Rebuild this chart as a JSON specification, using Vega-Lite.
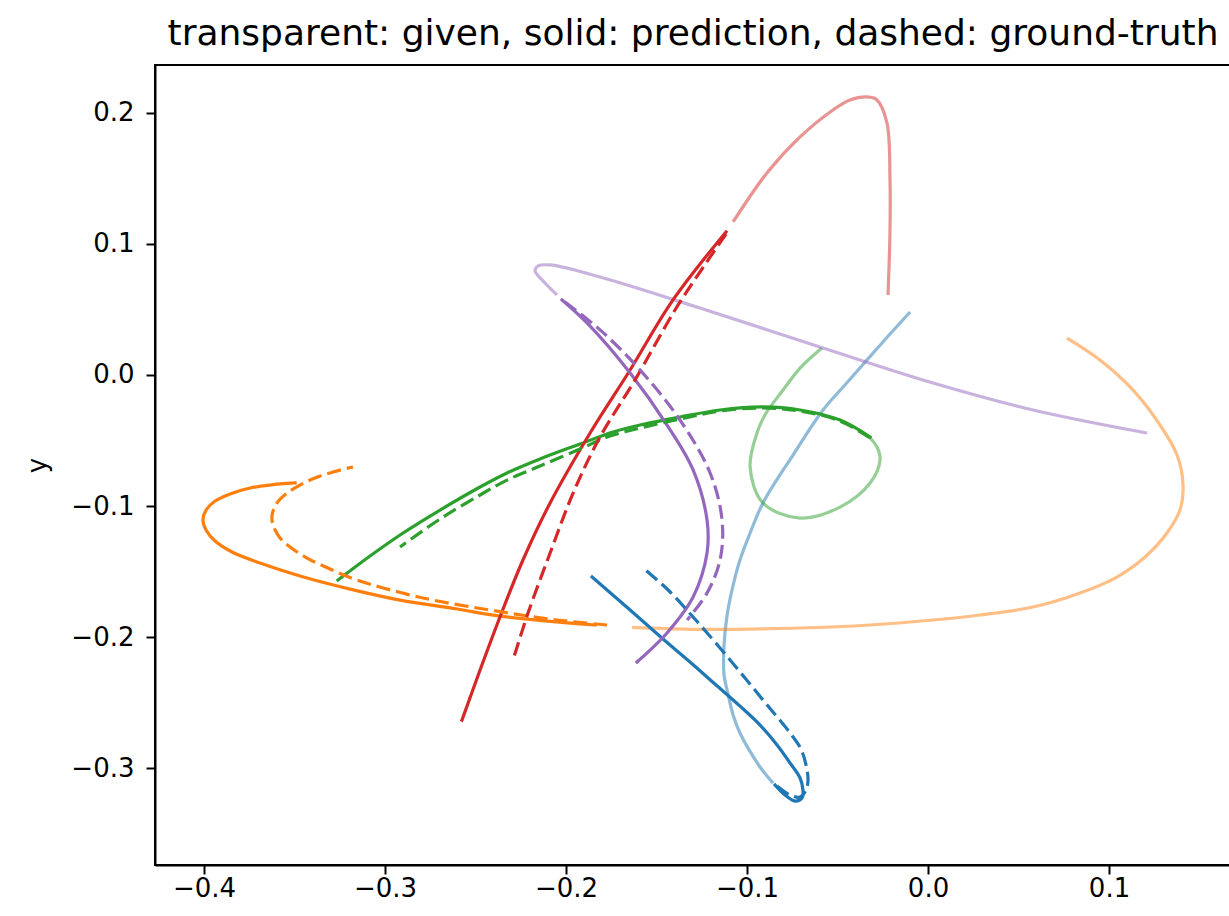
{
  "$schema": "https://vega.github.io/schema/vega-lite/v6.json",
  "autosize": {"type": "none"},
  "width": 1076,
  "height": 800,
  "padding": {"left": 155, "top": 65, "right": 0, "bottom": 51},
  "background": "white",
  "config": {
    "font": "DejaVu Sans",
    "view": {"stroke": "black", "strokeWidth": 2},
    "axis": {"grid": false, "domainColor": "black", "domainWidth": 2, "tickColor": "black", "tickWidth": 2, "tickSize": 9, "labelColor": "black", "labelFont": "DejaVu Sans", "labelFontSize": 26, "titleFont": "DejaVu Sans", "titleFontSize": 26, "titleFontWeight": "normal", "titleColor": "black"}
  },
  "title": {"text": "transparent: given, solid: prediction, dashed: ground-truth", "font": "DejaVu Sans", "fontSize": 36, "fontWeight": "normal", "color": "black", "anchor": "middle", "offset": 12},
  "data": {"values": [
    {"t":0,"k":"g","i":0,"x":-0.0099,"y":0.0481},{"t":0,"k":"g","i":1,"x":-0.0215,"y":0.0305},{"t":0,"k":"g","i":2,"x":-0.0337,"y":0.0115},{"t":0,"k":"g","i":3,"x":-0.0459,"y":-0.0076},{"t":0,"k":"g","i":4,"x":-0.0580,"y":-0.0267},{"t":0,"k":"g","i":5,"x":-0.0746,"y":-0.0611},{"t":0,"k":"g","i":6,"x":-0.0912,"y":-0.0977},{"t":0,"k":"g","i":7,"x":-0.0983,"y":-0.1206},{"t":0,"k":"g","i":8,"x":-0.1039,"y":-0.1412},{"t":0,"k":"g","i":9,"x":-0.1083,"y":-0.1641},{"t":0,"k":"g","i":10,"x":-0.1110,"y":-0.1832},{"t":0,"k":"g","i":11,"x":-0.1127,"y":-0.2061},{"t":0,"k":"g","i":12,"x":-0.1127,"y":-0.2290},{"t":0,"k":"g","i":13,"x":-0.1110,"y":-0.2405},{"t":0,"k":"g","i":14,"x":-0.1077,"y":-0.2595},{"t":0,"k":"g","i":15,"x":-0.1039,"y":-0.2733},{"t":0,"k":"g","i":16,"x":-0.0928,"y":-0.2992},{"t":0,"k":"g","i":17,"x":-0.0856,"y":-0.3115},
    {"t":0,"k":"p","i":0,"x":-0.0845,"y":-0.3130},{"t":0,"k":"p","i":1,"x":-0.0790,"y":-0.3206},{"t":0,"k":"p","i":2,"x":-0.0735,"y":-0.3252},{"t":0,"k":"p","i":3,"x":-0.0696,"y":-0.3229},{"t":0,"k":"p","i":4,"x":-0.0691,"y":-0.3168},{"t":0,"k":"p","i":5,"x":-0.0707,"y":-0.3076},{"t":0,"k":"p","i":6,"x":-0.0762,"y":-0.2962},{"t":0,"k":"p","i":7,"x":-0.0834,"y":-0.2824},{"t":0,"k":"p","i":8,"x":-0.0928,"y":-0.2672},{"t":0,"k":"p","i":9,"x":-0.1039,"y":-0.2527},{"t":0,"k":"p","i":10,"x":-0.1177,"y":-0.2359},{"t":0,"k":"p","i":11,"x":-0.1315,"y":-0.2191},{"t":0,"k":"p","i":12,"x":-0.1464,"y":-0.2015},{"t":0,"k":"p","i":13,"x":-0.1646,"y":-0.1794},{"t":0,"k":"p","i":14,"x":-0.1856,"y":-0.1542},
    {"t":0,"k":"d","i":0,"x":-0.0834,"y":-0.3137},{"t":0,"k":"d","i":1,"x":-0.0762,"y":-0.3206},{"t":0,"k":"d","i":2,"x":-0.0707,"y":-0.3221},{"t":0,"k":"d","i":3,"x":-0.0674,"y":-0.3168},{"t":0,"k":"d","i":4,"x":-0.0663,"y":-0.3092},{"t":0,"k":"d","i":5,"x":-0.0674,"y":-0.2977},{"t":0,"k":"d","i":6,"x":-0.0702,"y":-0.2855},{"t":0,"k":"d","i":7,"x":-0.0762,"y":-0.2733},{"t":0,"k":"d","i":8,"x":-0.0884,"y":-0.2527},{"t":0,"k":"d","i":9,"x":-0.1011,"y":-0.2313},{"t":0,"k":"d","i":10,"x":-0.1149,"y":-0.2084},{"t":0,"k":"d","i":11,"x":-0.1298,"y":-0.1847},{"t":0,"k":"d","i":12,"x":-0.1436,"y":-0.1641},{"t":0,"k":"d","i":13,"x":-0.1580,"y":-0.1466},

    {"t":1,"k":"g","i":0,"x":0.0768,"y":0.0282},{"t":1,"k":"g","i":1,"x":0.0950,"y":0.0115},{"t":1,"k":"g","i":2,"x":0.1133,"y":-0.0115},{"t":1,"k":"g","i":3,"x":0.1282,"y":-0.0382},{"t":1,"k":"g","i":4,"x":0.1376,"y":-0.0611},{"t":1,"k":"g","i":5,"x":0.1409,"y":-0.0840},{"t":1,"k":"g","i":6,"x":0.1392,"y":-0.1031},{"t":1,"k":"g","i":7,"x":0.1320,"y":-0.1206},{"t":1,"k":"g","i":8,"x":0.1199,"y":-0.1389},{"t":1,"k":"g","i":9,"x":0.1044,"y":-0.1542},{"t":1,"k":"g","i":10,"x":0.0840,"y":-0.1664},{"t":1,"k":"g","i":11,"x":0.0580,"y":-0.1771},{"t":1,"k":"g","i":12,"x":0.0287,"y":-0.1832},{"t":1,"k":"g","i":13,"x":0.0028,"y":-0.1870},{"t":1,"k":"g","i":14,"x":-0.0320,"y":-0.1908},{"t":1,"k":"g","i":15,"x":-0.0707,"y":-0.1931},{"t":1,"k":"g","i":16,"x":-0.1260,"y":-0.1942},{"t":1,"k":"g","i":17,"x":-0.1635,"y":-0.1927},
    {"t":1,"k":"p","i":0,"x":-0.1840,"y":-0.1908},{"t":1,"k":"p","i":1,"x":-0.2050,"y":-0.1885},{"t":1,"k":"p","i":2,"x":-0.2365,"y":-0.1840},{"t":1,"k":"p","i":3,"x":-0.2602,"y":-0.1786},{"t":1,"k":"p","i":4,"x":-0.2917,"y":-0.1718},{"t":1,"k":"p","i":5,"x":-0.3193,"y":-0.1634},{"t":1,"k":"p","i":6,"x":-0.3470,"y":-0.1534},{"t":1,"k":"p","i":7,"x":-0.3691,"y":-0.1435},{"t":1,"k":"p","i":8,"x":-0.3845,"y":-0.1351},{"t":1,"k":"p","i":9,"x":-0.3939,"y":-0.1267},{"t":1,"k":"p","i":10,"x":-0.3989,"y":-0.1183},{"t":1,"k":"p","i":11,"x":-0.4006,"y":-0.1107},{"t":1,"k":"p","i":12,"x":-0.3989,"y":-0.1031},{"t":1,"k":"p","i":13,"x":-0.3939,"y":-0.0962},{"t":1,"k":"p","i":14,"x":-0.3856,"y":-0.0908},{"t":1,"k":"p","i":15,"x":-0.3746,"y":-0.0863},{"t":1,"k":"p","i":16,"x":-0.3635,"y":-0.0840},{"t":1,"k":"p","i":17,"x":-0.3497,"y":-0.0824},
    {"t":1,"k":"d","i":0,"x":-0.1773,"y":-0.1908},{"t":1,"k":"d","i":1,"x":-0.2050,"y":-0.1870},{"t":1,"k":"d","i":2,"x":-0.2420,"y":-0.1794},{"t":1,"k":"d","i":3,"x":-0.2790,"y":-0.1702},{"t":1,"k":"d","i":4,"x":-0.3155,"y":-0.1565},{"t":1,"k":"d","i":5,"x":-0.3304,"y":-0.1481},{"t":1,"k":"d","i":6,"x":-0.3431,"y":-0.1397},{"t":1,"k":"d","i":7,"x":-0.3525,"y":-0.1313},{"t":1,"k":"d","i":8,"x":-0.3580,"y":-0.1244},{"t":1,"k":"d","i":9,"x":-0.3619,"y":-0.1145},{"t":1,"k":"d","i":10,"x":-0.3624,"y":-0.1069},{"t":1,"k":"d","i":11,"x":-0.3597,"y":-0.0977},{"t":1,"k":"d","i":12,"x":-0.3541,"y":-0.0901},{"t":1,"k":"d","i":13,"x":-0.3470,"y":-0.0840},{"t":1,"k":"d","i":14,"x":-0.3387,"y":-0.0786},{"t":1,"k":"d","i":15,"x":-0.3287,"y":-0.0740},{"t":1,"k":"d","i":16,"x":-0.3177,"y":-0.0702},

    {"t":2,"k":"g","i":0,"x":-0.0586,"y":0.0206},{"t":2,"k":"g","i":1,"x":-0.0707,"y":0.0053},{"t":2,"k":"g","i":2,"x":-0.0801,"y":-0.0115},{"t":2,"k":"g","i":3,"x":-0.0901,"y":-0.0305},{"t":2,"k":"g","i":4,"x":-0.0945,"y":-0.0443},{"t":2,"k":"g","i":5,"x":-0.0983,"y":-0.0702},{"t":2,"k":"g","i":6,"x":-0.0912,"y":-0.0977},{"t":2,"k":"g","i":7,"x":-0.0707,"y":-0.1092},{"t":2,"k":"g","i":8,"x":-0.0486,"y":-0.1008},{"t":2,"k":"g","i":9,"x":-0.0320,"y":-0.0824},{"t":2,"k":"g","i":10,"x":-0.0265,"y":-0.0649},{"t":2,"k":"g","i":11,"x":-0.0282,"y":-0.0550},{"t":2,"k":"g","i":12,"x":-0.0320,"y":-0.0481},
    {"t":2,"k":"p","i":0,"x":-0.0320,"y":-0.0473},{"t":2,"k":"p","i":1,"x":-0.0486,"y":-0.0344},{"t":2,"k":"p","i":2,"x":-0.0707,"y":-0.0267},{"t":2,"k":"p","i":3,"x":-0.0912,"y":-0.0244},{"t":2,"k":"p","i":4,"x":-0.1149,"y":-0.0267},{"t":2,"k":"p","i":5,"x":-0.1370,"y":-0.0321},{"t":2,"k":"p","i":6,"x":-0.1591,"y":-0.0382},{"t":2,"k":"p","i":7,"x":-0.1740,"y":-0.0435},{"t":2,"k":"p","i":8,"x":-0.1923,"y":-0.0527},{"t":2,"k":"p","i":9,"x":-0.2144,"y":-0.0641},{"t":2,"k":"p","i":10,"x":-0.2326,"y":-0.0748},{"t":2,"k":"p","i":11,"x":-0.2475,"y":-0.0855},{"t":2,"k":"p","i":12,"x":-0.2696,"y":-0.1031},{"t":2,"k":"p","i":13,"x":-0.2917,"y":-0.1221},{"t":2,"k":"p","i":14,"x":-0.3083,"y":-0.1382},{"t":2,"k":"p","i":15,"x":-0.3260,"y":-0.1565},
    {"t":2,"k":"d","i":0,"x":-0.0320,"y":-0.0481},{"t":2,"k":"d","i":1,"x":-0.0486,"y":-0.0351},{"t":2,"k":"d","i":2,"x":-0.0707,"y":-0.0275},{"t":2,"k":"d","i":3,"x":-0.0912,"y":-0.0252},{"t":2,"k":"d","i":4,"x":-0.1149,"y":-0.0275},{"t":2,"k":"d","i":5,"x":-0.1370,"y":-0.0336},{"t":2,"k":"d","i":6,"x":-0.1591,"y":-0.0405},{"t":2,"k":"d","i":7,"x":-0.1757,"y":-0.0466},{"t":2,"k":"d","i":8,"x":-0.1923,"y":-0.0565},{"t":2,"k":"d","i":9,"x":-0.2144,"y":-0.0695},{"t":2,"k":"d","i":10,"x":-0.2326,"y":-0.0802},{"t":2,"k":"d","i":11,"x":-0.2475,"y":-0.0916},{"t":2,"k":"d","i":12,"x":-0.2696,"y":-0.1099},{"t":2,"k":"d","i":13,"x":-0.2917,"y":-0.1313},

    {"t":3,"k":"g","i":0,"x":-0.0221,"y":0.0611},{"t":3,"k":"g","i":1,"x":-0.0210,"y":0.1107},{"t":3,"k":"g","i":2,"x":-0.0210,"y":0.1489},{"t":3,"k":"g","i":3,"x":-0.0227,"y":0.1924},{"t":3,"k":"g","i":4,"x":-0.0282,"y":0.2099},{"t":3,"k":"g","i":5,"x":-0.0337,"y":0.2122},{"t":3,"k":"g","i":6,"x":-0.0431,"y":0.2099},{"t":3,"k":"g","i":7,"x":-0.0525,"y":0.2023},{"t":3,"k":"g","i":8,"x":-0.0707,"y":0.1817},{"t":3,"k":"g","i":9,"x":-0.0890,"y":0.1542},{"t":3,"k":"g","i":10,"x":-0.1077,"y":0.1168},
    {"t":3,"k":"p","i":0,"x":-0.1116,"y":0.1092},{"t":3,"k":"p","i":1,"x":-0.1409,"y":0.0573},{"t":3,"k":"p","i":2,"x":-0.1646,"y":0.0038},{"t":3,"k":"p","i":3,"x":-0.1867,"y":-0.0443},{"t":3,"k":"p","i":4,"x":-0.2088,"y":-0.0977},{"t":3,"k":"p","i":5,"x":-0.2238,"y":-0.1412},{"t":3,"k":"p","i":6,"x":-0.2365,"y":-0.1847},{"t":3,"k":"p","i":7,"x":-0.2475,"y":-0.2252},{"t":3,"k":"p","i":8,"x":-0.2575,"y":-0.2634},
    {"t":3,"k":"d","i":0,"x":-0.1116,"y":0.1076},{"t":3,"k":"d","i":1,"x":-0.1260,"y":0.0786},{"t":3,"k":"d","i":2,"x":-0.1398,"y":0.0496},{"t":3,"k":"d","i":3,"x":-0.1619,"y":-0.0038},{"t":3,"k":"d","i":4,"x":-0.1812,"y":-0.0473},{"t":3,"k":"d","i":5,"x":-0.1961,"y":-0.0901},{"t":3,"k":"d","i":6,"x":-0.2088,"y":-0.1359},{"t":3,"k":"d","i":7,"x":-0.2210,"y":-0.1817},{"t":3,"k":"d","i":8,"x":-0.2293,"y":-0.2176},

    {"t":4,"k":"g","i":0,"x":0.1210,"y":-0.0443},{"t":4,"k":"g","i":1,"x":0.0580,"y":-0.0267},{"t":4,"k":"g","i":2,"x":0.0028,"y":-0.0061},{"t":4,"k":"g","i":3,"x":-0.0597,"y":0.0214},{"t":4,"k":"g","i":4,"x":-0.1260,"y":0.0511},{"t":4,"k":"g","i":5,"x":-0.1812,"y":0.0748},{"t":4,"k":"g","i":6,"x":-0.2088,"y":0.0840},{"t":4,"k":"g","i":7,"x":-0.2155,"y":0.0832},{"t":4,"k":"g","i":8,"x":-0.2171,"y":0.0794},{"t":4,"k":"g","i":9,"x":-0.2116,"y":0.0702},{"t":4,"k":"g","i":10,"x":-0.2050,"y":0.0611},
    {"t":4,"k":"p","i":0,"x":-0.2022,"y":0.0573},{"t":4,"k":"p","i":1,"x":-0.1884,"y":0.0397},{"t":4,"k":"p","i":2,"x":-0.1646,"y":0.0015},{"t":4,"k":"p","i":3,"x":-0.1442,"y":-0.0382},{"t":4,"k":"p","i":4,"x":-0.1298,"y":-0.0725},{"t":4,"k":"p","i":5,"x":-0.1221,"y":-0.1107},{"t":4,"k":"p","i":6,"x":-0.1221,"y":-0.1359},{"t":4,"k":"p","i":7,"x":-0.1298,"y":-0.1695},{"t":4,"k":"p","i":8,"x":-0.1442,"y":-0.1969},{"t":4,"k":"p","i":9,"x":-0.1608,"y":-0.2191},
    {"t":4,"k":"d","i":0,"x":-0.2006,"y":0.0557},{"t":4,"k":"d","i":1,"x":-0.1812,"y":0.0344},{"t":4,"k":"d","i":2,"x":-0.1591,"y":0.0038},{"t":4,"k":"d","i":3,"x":-0.1370,"y":-0.0344},{"t":4,"k":"d","i":4,"x":-0.1204,"y":-0.0748},{"t":4,"k":"d","i":5,"x":-0.1138,"y":-0.1107},{"t":4,"k":"d","i":6,"x":-0.1149,"y":-0.1412},{"t":4,"k":"d","i":7,"x":-0.1221,"y":-0.1664},{"t":4,"k":"d","i":8,"x":-0.1331,"y":-0.1870}
  ]},
  "encoding": {
    "x": {"field": "x", "type": "quantitative", "scale": {"domain": [-0.4271, 0.1674], "nice": false, "zero": false}, "axis": {"values": [-0.4, -0.3, -0.2, -0.1, 0, 0.1], "format": ".1f", "title": null, "labelPadding": 1}},
    "y": {"field": "y", "type": "quantitative", "scale": {"domain": [-0.374, 0.2366], "nice": false, "zero": false}, "axis": {"values": [-0.3, -0.2, -0.1, 0, 0.1, 0.2], "format": ".1f", "title": "y", "labelPadding": 12, "titlePadding": 20}},
    "color": {"field": "t", "type": "nominal", "scale": {"domain": [0, 1, 2, 3, 4], "range": ["#1f77b4", "#ff7f0e", "#2ca02c", "#d62728", "#9467bd"]}, "legend": null},
    "order": {"field": "i", "type": "quantitative"}
  },
  "layer": [
    {"transform": [{"filter": "datum.k === 'g'"}], "mark": {"type": "line", "strokeWidth": 3.2, "opacity": 0.5, "strokeCap": "butt", "interpolate": "catmull-rom"}},
    {"transform": [{"filter": "datum.k === 'p'"}], "mark": {"type": "line", "strokeWidth": 3.2, "strokeCap": "square", "interpolate": "catmull-rom"}},
    {"transform": [{"filter": "datum.k === 'd'"}], "mark": {"type": "line", "strokeWidth": 3.2, "strokeDash": [14, 6], "strokeCap": "butt", "interpolate": "catmull-rom"}}
  ]
}
